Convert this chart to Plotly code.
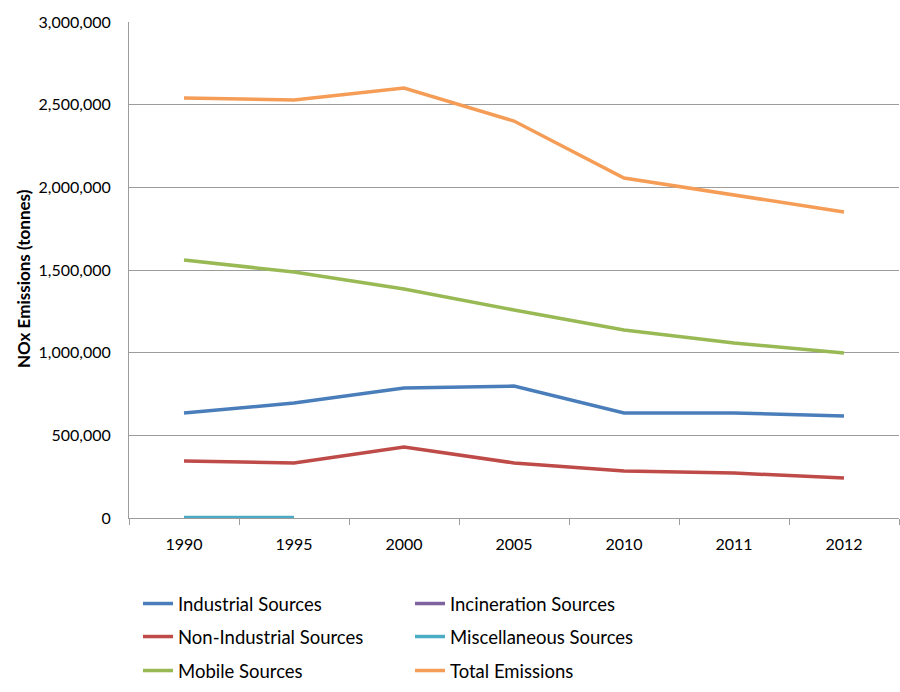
import plotly.graph_objects as go

years = ["1990", "1995", "2000", "2005", "2010", "2011", "2012"]
industrial = [635000, 695000, 786000, 798000, 635000, 635000, 617000]
incineration = [2000, 2000, None, None, None, None, None]
non_industrial = [345000, 333000, 429000, 333000, 284000, 272000, 242000]
miscellaneous = [3000, 3000, None, None, None, None, None]
mobile = [1560000, 1488000, 1385000, 1258000, 1137000, 1058000, 998000]
total = [2540000, 2528000, 2600000, 2401000, 2056000, 1954000, 1851000]

series = [
    ("Industrial Sources", industrial, "#4A7EBB", "legend"),
    ("Incineration Sources", incineration, "#7F63A1", "legend"),
    ("Non-Industrial Sources", non_industrial, "#BE4B48", "legend2"),
    ("Miscellaneous Sources", miscellaneous, "#4BACC6", "legend2"),
    ("Mobile Sources", mobile, "#98B954", "legend3"),
    ("Total Emissions", total, "#F59D56", "legend3"),
]

FONT = "Lato, 'Open Sans', sans-serif"
GRID = "#9C9C9C"

fig = go.Figure()
for name, vals, color, leg in series:
    fig.add_trace(go.Scatter(
        x=years, y=vals, name=name, mode="lines",
        line=dict(color=color, width=3.5),
        legend=leg, connectgaps=False,
    ))

def legend_at(ypix):
    return dict(
        orientation="h", x=9 / 770, xanchor="left",
        y=(518 - ypix) / 496, yanchor="middle",
        entrywidth=227, entrywidthmode="pixels",
        font=dict(family=FONT, size=18.5, color="#000000"),
        bgcolor="rgba(0,0,0,0)", itemwidth=30,
    )

fig.update_layout(
    width=900, height=692,
    margin=dict(l=129, r=1, t=22, b=174),
    paper_bgcolor="white", plot_bgcolor="white",
    font=dict(family=FONT, size=16, color="#000000"),
    showlegend=True,
    legend=legend_at(604),
    legend2=legend_at(637),
    legend3=legend_at(671),
    xaxis=dict(
        type="category", range=[-0.5, 6.5],
        showgrid=False, showline=True, linecolor=GRID, linewidth=1,
        ticks="outside", tickson="boundaries", ticklen=6, tickcolor=GRID,
        ticklabelstandoff=12,
        tickfont=dict(family=FONT, size=16, color="#000000"),
    ),
    yaxis=dict(
        range=[0, 3000000], dtick=500000, tickformat=",d",
        showgrid=True, gridcolor=GRID, gridwidth=1,
        showline=True, linecolor=GRID, linewidth=1,
        zeroline=False, ticks="", ticklabelstandoff=14,
        tickfont=dict(family=FONT, size=16, color="#000000"),
    ),
    annotations=[dict(
        text="<b>NOx Emissions (tonnes)</b>", textangle=-90,
        xref="paper", yref="paper", x=(24 - 129) / 770, y=(518 - 279) / 496,
        xanchor="center", yanchor="middle", showarrow=False,
        font=dict(family=FONT, size=17, color="#000000"),
    )],
)

fig.write_html("out.html")
